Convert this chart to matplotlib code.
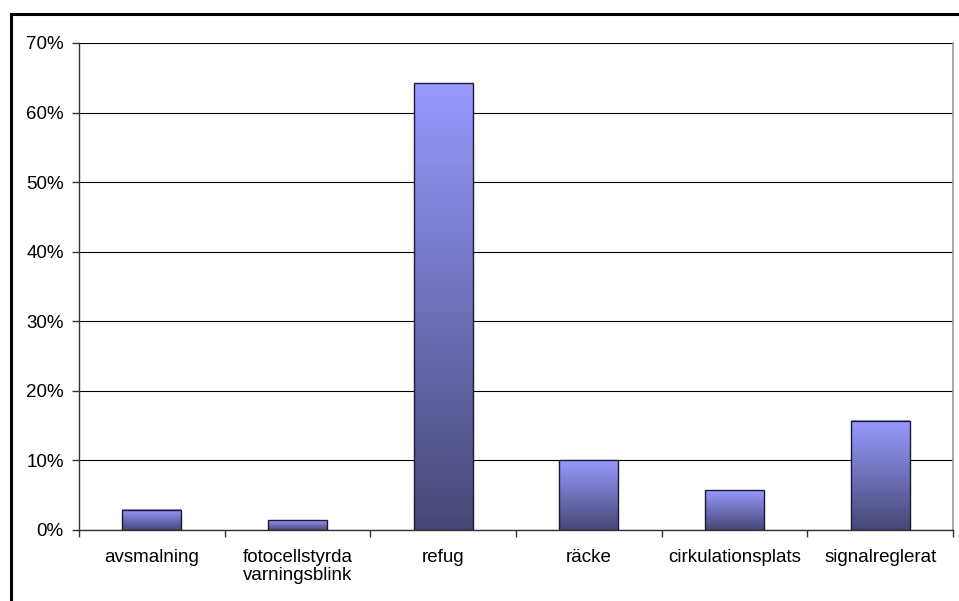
import matplotlib.pyplot as plt
import numpy as np
from matplotlib.colors import LinearSegmentedColormap
from matplotlib.patches import Rectangle
from matplotlib.ticker import MultipleLocator, FuncFormatter

plt.rcParams['font.family'] = ['Liberation Sans', 'DejaVu Sans']

# --- data ---
categories = ['avsmalning', 'fotocellstyrda\nvarningsblink', 'refug',
              'räcke', 'cirkulationsplats', 'signalreglerat']
shares = [0.029, 0.014, 0.642, 0.100, 0.057, 0.157]

# --- figure ---
W, H = 959, 601
fig = plt.figure(figsize=(W / 100, H / 100), dpi=100)
ax = fig.add_axes([79 / W, 1 - 530 / H, (953 - 79) / W, (530 - 43) / H])

# outer frame (runs off the right and bottom edges)
fig.patches.append(Rectangle((10.5 / W, -0.1), 1.2, 1 - 13.5 / H + 0.1,
                             transform=fig.transFigure, fill=False,
                             edgecolor='black', linewidth=2.2, zorder=0))

x = np.arange(len(categories))
bars = ax.bar(x, shares, width=0.405, facecolor='none',
              edgecolor='#1a1a33', linewidth=1.0, zorder=3)

# vertical gradient fill inside each bar
cmap = LinearSegmentedColormap.from_list('bar', ['#474776', '#9999FF'])
grad = np.linspace(0, 1, 256).reshape(-1, 1)
for b in bars:
    x0, w, h = b.get_x(), b.get_width(), b.get_height()
    ax.imshow(grad, extent=(x0, x0 + w, 0, h), origin='lower',
              aspect='auto', cmap=cmap, zorder=2, interpolation='bilinear')

ax.set_xlim(-0.5, len(categories) - 0.5)
ax.set_ylim(0, 0.70)

ax.yaxis.set_major_locator(MultipleLocator(0.10))
ax.yaxis.set_major_formatter(FuncFormatter(lambda v, p: f'{v * 100:.0f}%'))
ax.grid(axis='y', color='black', linewidth=0.8, zorder=1)
ax.set_axisbelow(True)

# category ticks sit between the groups
ax.set_xticks(np.arange(len(categories) + 1) - 0.5)
ax.set_xticklabels([])
ax.set_xticks(x, minor=True)
ax.set_xticklabels(categories, minor=True, fontsize=13.5, linespacing=1.05)
ax.tick_params(axis='x', which='minor', length=0, pad=14)
ax.tick_params(axis='x', which='major', length=5, width=1, color='#333333',
               direction='out')
ax.tick_params(axis='y', length=5, width=1, color='#333333', direction='out',
               labelsize=13.5, pad=6)

for side in ['left', 'bottom']:
    ax.spines[side].set_color('#333333')
    ax.spines[side].set_linewidth(1.0)
ax.spines['right'].set_color('#999999')
ax.spines['right'].set_linewidth(1.2)
ax.spines['top'].set_visible(False)

fig.savefig('out.png', dpi=100)
